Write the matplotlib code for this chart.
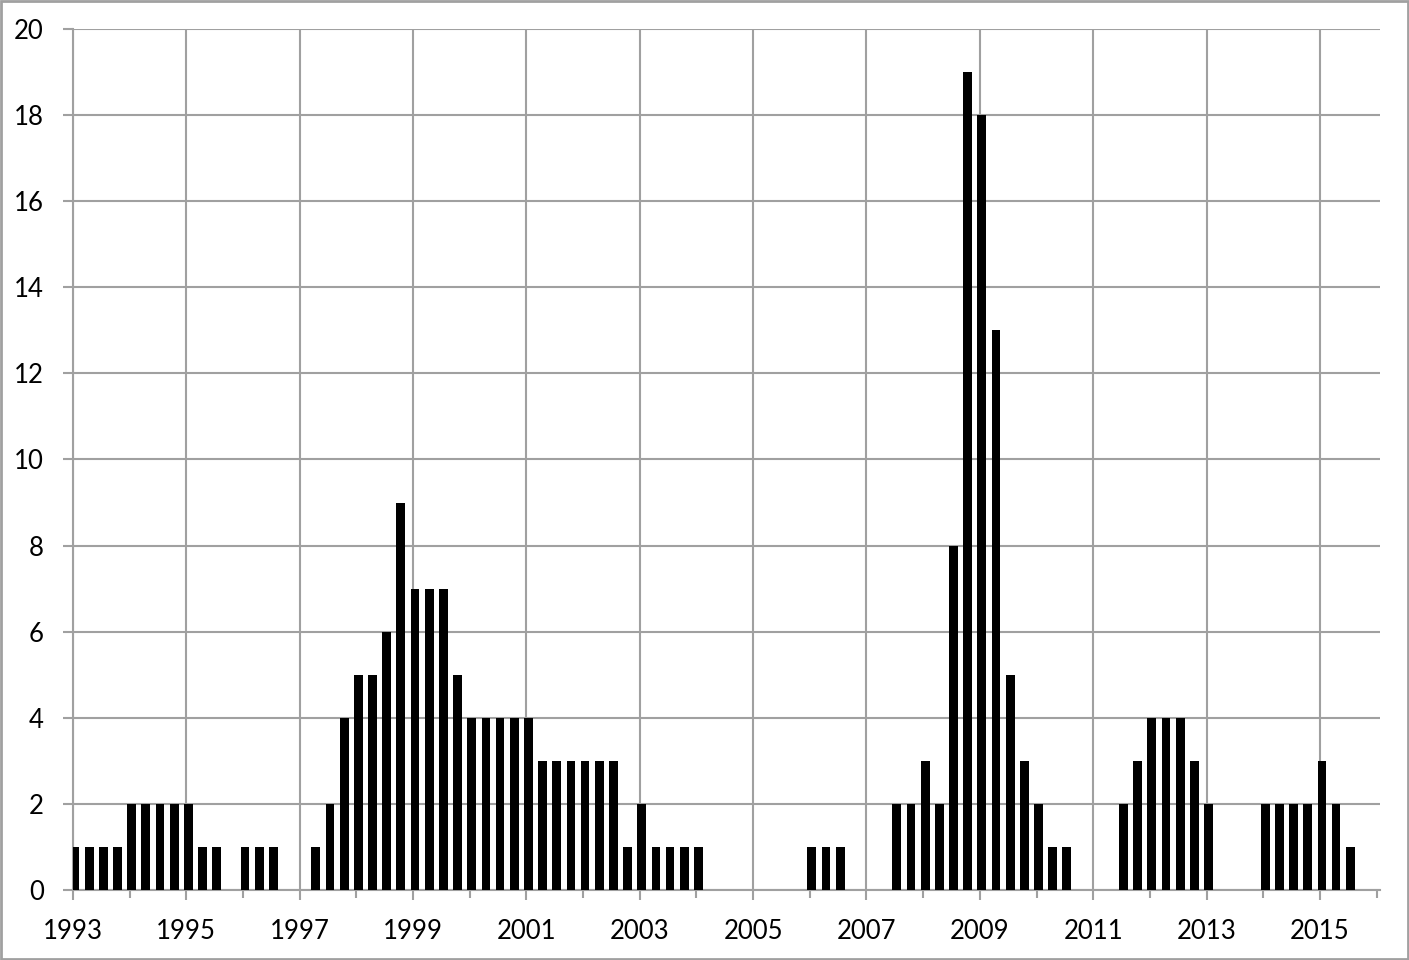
import numpy as np
import matplotlib
matplotlib.use("Agg")
import matplotlib.pyplot as plt
from matplotlib.patches import Rectangle

plt.rcParams['font.family'] = ['Lato', 'DejaVu Sans']

# quarterly counts, first value = 1993 Q1, last = 2015 Q3
start_year = 1993
counts = [1, 1, 1, 1,
          2, 2, 2, 2,
          2, 1, 1, 0,
          1, 1, 1, 0,
          0, 1, 2, 4,
          5, 5, 6, 9,
          7, 7, 7, 5,
          4, 4, 4, 4,
          4, 3, 3, 3,
          3, 3, 3, 1,
          2, 1, 1, 1,
          1, 0, 0, 0,
          0, 0, 0, 0,
          1, 1, 1, 0,
          0, 0, 2, 2,
          3, 2, 8, 19,
          18, 13, 5, 3,
          2, 1, 1, 0,
          0, 0, 2, 3,
          4, 4, 4, 3,
          2, 0, 0, 0,
          2, 2, 2, 2,
          3, 2, 1]

year_ticks = list(range(1993, 2016, 2))
minor_ticks = list(range(1994, 2017, 2))
y_ticks = list(range(0, 21, 2))

grid_col = '#a0a0a0'

x = start_year + np.arange(len(counts)) * 0.25 + 0.035

fig = plt.figure(figsize=(14.09, 9.6), dpi=100)
ax = fig.add_axes([73/1409, 70/960, (1380-73)/1409, (890-29)/960])

ax.bar(x, counts, width=0.155, color='black', zorder=3)

ax.set_xlim(1993, 2016.06)
ax.set_ylim(0, 20)
ax.set_xticks(year_ticks)
ax.set_xticks(minor_ticks, minor=True)
ax.set_yticks(y_ticks)

ax.grid(True, which='major', color=grid_col, linewidth=1.5, zorder=0)
ax.set_axisbelow(True)

for s in ['top', 'right']:
    ax.spines[s].set_visible(False)
for s in ['left', 'bottom']:
    ax.spines[s].set_color(grid_col)
    ax.spines[s].set_linewidth(1.5)

ax.tick_params(axis='x', which='major', direction='out', length=7, width=1.5,
               color=grid_col, labelsize=18.5, pad=14)
ax.tick_params(axis='x', which='minor', direction='out', length=6, width=1.5,
               color=grid_col)
ax.tick_params(axis='y', direction='out', length=7, width=1.5,
               color=grid_col, labelsize=18.5, pad=14)

fig.patches.append(Rectangle((0.0007, 0.001), 0.9986, 0.998, transform=fig.transFigure,
                             fill=False, edgecolor=grid_col, linewidth=2))

fig.savefig("out.png", dpi=100)
